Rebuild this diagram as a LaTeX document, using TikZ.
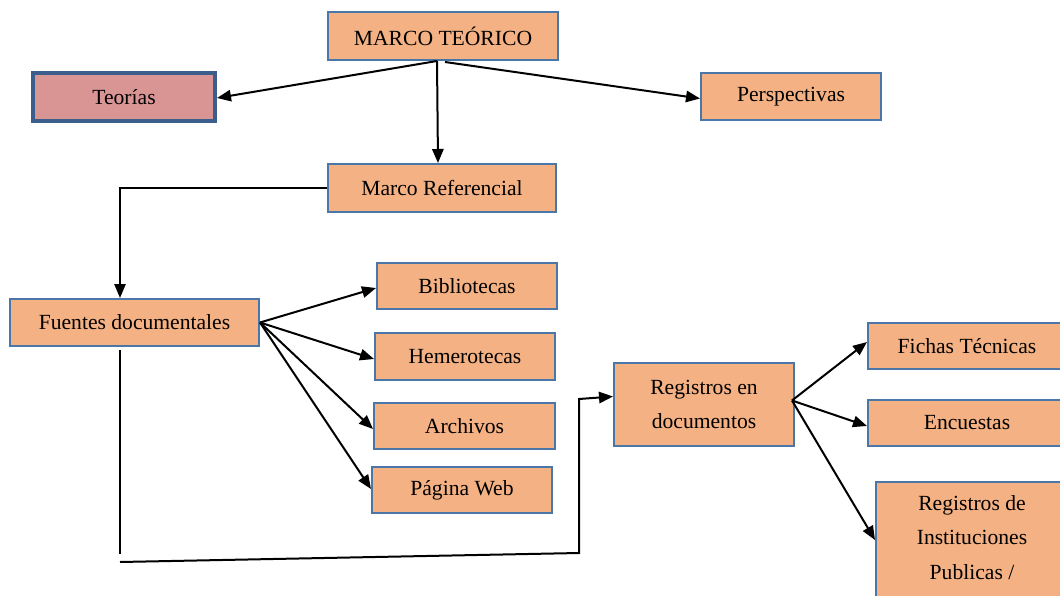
\documentclass[tikz,border=0pt]{standalone}
\usepackage{fontspec}
\setmainfont{Liberation Serif}
\usetikzlibrary{arrows.meta,calc}
\definecolor{boxfill}{HTML}{F4B183}
\definecolor{boxline}{HTML}{4A76A8}
\definecolor{teofill}{HTML}{D99594}
\definecolor{teoline}{HTML}{3B5E8C}
\begin{document}
\begin{tikzpicture}[x=0.75pt,y=-0.75pt,
  box/.style={draw=boxline,line width=1.5pt,fill=boxfill,
    font=\fontsize{16.2}{26}\selectfont,align=center,inner sep=0pt},
  tip/.style={-{Triangle[length=10.5pt,width=8.5pt]}},
  arr/.style={line width=1.5pt,tip},
  ln/.style={line width=1.2pt}]
\clip (0,0) rectangle (1060,596);
\fill[white] (0,0) rectangle (1060,596);
% nodes
\node[box,minimum width=172.5pt,minimum height=36pt] (mt) at (443,36) {MARCO TEÓRICO};
\node[box,draw=teoline,fill=teofill,line width=3pt,minimum width=136.5pt,minimum height=36pt] (teo) at (124,97) {Teorías};
\node[box,minimum width=135pt,minimum height=35.25pt] (per) at (791,96.5) {Perspectivas};
\node[box,minimum width=171pt,minimum height=36pt] (mr) at (442,188) {Marco Referencial};
\node[box,minimum width=186.75pt,minimum height=35.25pt] (fd) at (134.5,322.5) {Fuentes documentales};
\node[box,minimum width=135pt,minimum height=34.5pt] (bib) at (467,286) {Bibliotecas};
\node[box,minimum width=135pt,minimum height=35.25pt] (hem) at (465,356.5) {Hemerotecas};
\node[box,minimum width=135.75pt,minimum height=34.5pt] (arc) at (464.5,426) {Archivos};
\node[box,minimum width=135pt,minimum height=34.5pt] (pag) at (462,490) {Página Web};
\node[box,minimum width=135pt,minimum height=62.25pt] (reg) at (704,404.5) {Registros en\\documentos};
\node[box,minimum width=148.5pt,minimum height=34.5pt] (fic) at (967,346) {Fichas Técnicas};
\node[box,minimum width=148.5pt,minimum height=34.5pt] (enc) at (967,423) {Encuestas};
\node[box,anchor=north west,minimum width=144pt,inner ysep=10pt] (ins) at (875,481) {Registros de\\Instituciones\\Publicas /\\~};
% helper coordinates
\coordinate (mtA) at ($(mt.south)+(-6,0)$);
\coordinate (mtB) at ($(mt.south)+(2,1)$);
\coordinate (fdT) at ($(fd.north)+(-14.5,0)$);
\coordinate (fdB) at ($(fd.south)+(-14.5,3)$);
\coordinate (fdC) at ($(fd.south)+(-14.5,207)$);
\coordinate (hl) at ($(fd.south)+(-14.5,215)$);
\coordinate (hr) at (579,553);
\coordinate (rv) at (579,399);
\coordinate (regO) at ($(reg.east)+(-3,-4)$);
\coordinate (insW) at ($(ins.north west)+(0,59)$);
% connectors
\draw[arr] (mtA) -- ($(teo.east)+(0,1)$);
\draw[arr] (mtA) -- ($(mr.north)+(-4,0)$);
\draw[arr] (mtB) -- ($(per.west)+(0,2)$);
\draw[ln,tip] (mr.west) -| (fdT);
\draw[arr] (fd.east) -- ($(bib.west)+(0,2)$);
\draw[arr] (fd.east) -- ($(hem.west)+(0,2.5)$);
\draw[arr] (fd.east) -- ($(arc.west)+(0,3)$);
\draw[arr] (fd.east) -- ($(pag.west)+(0,-1)$);
\draw[ln] (fdB) -- (fdC);
\draw[arr] (hl) -- (hr) -- (rv) -- ($(reg.west)+(0,-8)$);
\draw[arr] (regO) -- ($(fic.west)+(0,-4)$);
\draw[arr] (regO) -- ($(enc.west)+(0,3)$);
\draw[arr] (regO) -- (insW);
\end{tikzpicture}
\end{document}
